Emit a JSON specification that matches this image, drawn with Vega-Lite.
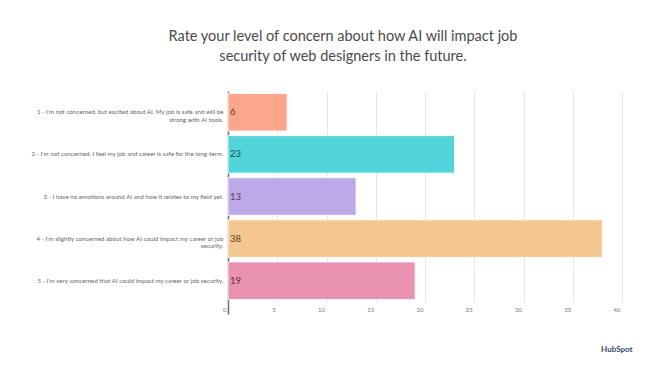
{
  "$schema": "https://vega.github.io/schema/vega-lite/v6.json",
  "autosize": {"type": "none"},
  "width": 394,
  "height": 211,
  "padding": {"left": 228, "top": 91, "right": 28, "bottom": 63},
  "background": "white",
  "config": {"view": {"stroke": null}, "font": "Lato"},
  "title": {
    "text": ["Rate your level of concern about how AI will impact job", "security of web designers in the future."],
    "anchor": "middle",
    "frame": "group",
    "dx": -82,
    "offset": 27,
    "fontSize": 14.5,
    "fontWeight": "normal",
    "color": "#4a4a4a",
    "lineHeight": 20,
    "font": "Lato"
  },
  "data": {
    "values": [
      {"response": "1 - I'm not concerned, but excited about AI. My job is safe and will be|strong with AI tools.", "count": 6},
      {"response": "2 - I'm not concerned. I feel my job and career is safe for the long-term.", "count": 23},
      {"response": "3 - I have no emotions around AI and how it relates to my field yet.", "count": 13},
      {"response": "4 - I'm slightly concerned about how AI could impact my career or job|security.", "count": 38},
      {"response": "5 - I'm very concerned that AI could impact my career or job security.", "count": 19}
    ]
  },
  "encoding": {
    "y": {
      "field": "response",
      "type": "nominal",
      "sort": null,
      "scale": {"paddingInner": 0.11, "paddingOuter": 0.06},
      "axis": {
        "title": null,
        "labelExpr": "split(datum.label, '|')",
        "labelFontSize": 6.2,
        "labelColor": "#666666",
        "labelLimit": 300,
        "labelPadding": 5,
        "labelLineHeight": 7.5,
        "ticks": false,
        "domainColor": "#6b6b6b",
        "domainWidth": 1.5
      }
    },
    "x": {
      "field": "count",
      "type": "quantitative",
      "scale": {"domain": [0, 40]},
      "axis": {
        "values": [0, 5, 10, 15, 20, 25, 30, 35, 40],
        "title": "HubSpot",
        "titleAnchor": "end",
        "titleAlign": "right",
        "titleX": 404,
        "titleFontSize": 8,
        "titleFontWeight": "bold",
        "titleColor": "#33475b",
        "titlePadding": 31,
        "labelFontSize": 6,
        "labelColor": "#777777",
        "labelPadding": -8,
        "labelAlign": "right",
        "labelOffset": -2,
        "domain": false,
        "tickSize": 12,
        "tickWidth": 1.5,
        "tickColor": {"condition": {"test": "datum.value == 0", "value": "#6b6b6b"}, "value": "transparent"},
        "grid": true,
        "gridColor": "#e6e6e6",
        "gridWidth": 1
      }
    }
  },
  "layer": [
    {
      "mark": {"type": "bar", "stroke": "white", "strokeWidth": 0.8},
      "encoding": {
        "color": {
          "field": "response",
          "type": "nominal",
          "sort": null,
          "legend": null,
          "scale": {"range": ["#FCA68B", "#51D4DA", "#BDA8E8", "#F4C790", "#E991B1"]}
        }
      }
    },
    {
      "mark": {"type": "text", "align": "left", "dx": 2, "fontSize": 9.5, "font": "Lato"},
      "encoding": {
        "x": {"datum": 0},
        "text": {"field": "count", "type": "quantitative"},
        "color": {
          "field": "response",
          "type": "nominal",
          "sort": null,
          "legend": null,
          "scale": {"range": ["#5a3a2c", "#1d4e55", "#4d3f6a", "#5a4428", "#5e2f42"]}
        }
      }
    }
  ],
  "resolve": {"scale": {"color": "independent"}}
}
